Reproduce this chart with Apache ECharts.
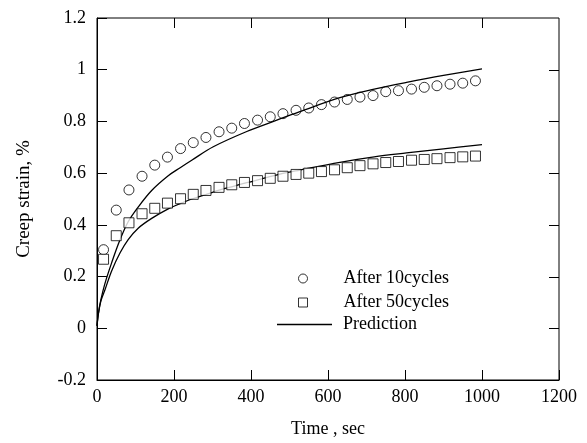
<!DOCTYPE html>
<html>
<head>
<meta charset="utf-8">
<script src="https://cdn.jsdelivr.net/npm/echarts@6/dist/echarts.min.js"></script>
<style>
    html, body { margin: 0; padding: 0; background: #fff; }
    #main { width: 587px; height: 443px; }
</style>
</head>
<body>
<div id="main"></div>
<script type="text/javascript">
    // measured points (time in sec, strain in %)
    var timeSec = [17, 50, 83, 117, 150, 183, 217, 250, 283, 317, 350, 383, 417, 450, 483,
        517, 550, 583, 617, 650, 683, 717, 750, 783, 817, 850, 883, 917, 950, 983];
    var after10 = [0.304, 0.457, 0.535, 0.588, 0.631, 0.662, 0.695, 0.718, 0.738, 0.760, 0.774, 0.792, 0.805, 0.818, 0.830,
        0.843, 0.852, 0.865, 0.875, 0.885, 0.894, 0.900, 0.915, 0.919, 0.925, 0.932, 0.938, 0.944, 0.948, 0.957];
    var after50 = [0.267, 0.358, 0.408, 0.443, 0.464, 0.484, 0.501, 0.518, 0.533, 0.545, 0.555, 0.564, 0.571, 0.580, 0.588,
        0.595, 0.600, 0.606, 0.613, 0.621, 0.629, 0.636, 0.641, 0.645, 0.650, 0.653, 0.656, 0.660, 0.663, 0.666];

    // prediction curves
    var predTime10 = [0, 4, 10, 20, 38, 60, 81, 107, 142, 185, 216, 246, 302, 389, 467, 527, 631, 720, 804, 900, 1000];
    var pred10 = [0.01, 0.06, 0.11, 0.17, 0.253, 0.343, 0.412, 0.469, 0.533, 0.59, 0.621, 0.65, 0.702, 0.761, 0.805, 0.838, 0.892, 0.925, 0.951, 0.978, 1.003];
    var predTime50 = [0, 4, 10, 21, 38, 60, 81, 107, 142, 185, 216, 246, 302, 354, 389, 475, 527, 631, 720, 804, 900, 1000];
    var pred50 = [0.01, 0.06, 0.105, 0.15, 0.222, 0.292, 0.343, 0.387, 0.425, 0.462, 0.482, 0.50, 0.527, 0.549, 0.563, 0.596, 0.612, 0.642, 0.663, 0.678, 0.694, 0.710];

    // ticks mirrored on the top and right frame
    var topTicks = [200, 400, 600, 800, 1000];
    var rightTicks = [0, 0.2, 0.4, 0.6, 0.8, 1];
    var xMax = 1200, yMax = 1.2;

    function pairs(xs, ys) {
        return xs.map(function (x, i) { return [x, ys[i]]; });
    }

    var font = 'Liberation Serif, Times New Roman, serif';
    var legendText = { fontFamily: font, fontSize: 18, color: '#000', lineHeight: 23 };
    var hollow = { color: '#fff', borderColor: '#000', borderWidth: 1 };
    var tickLen = 10;

    // frame ticks drawn through the axis scales (api.coord)
    var frameTicks = topTicks.map(function (v) { return [v, yMax, 0]; })
        .concat(rightTicks.map(function (v) { return [xMax, v, 1]; }));

    function renderTick(params, api) {
        var p = api.coord([api.value(0), api.value(1)]);
        var x = Math.round(p[0]) + 0.5, y = Math.round(p[1]) + 0.5;
        var shape = api.value(2) === 0
            ? { x1: x, y1: p[1], x2: x, y2: p[1] + tickLen }
            : { x1: p[0] - tickLen, y1: y, x2: p[0], y2: y };
        return { type: 'line', shape: shape, style: { stroke: '#000', lineWidth: 1 } };
    }

    var myChart = echarts.init(document.getElementById('main'));
    var option = {
        animation: false,
        backgroundColor: '#fff',
        grid: {
            left: 97, top: 18, right: 28, bottom: 57,
            show: true, borderColor: '#000', borderWidth: 1, backgroundColor: 'transparent'
        },
        legend: [{
            left: 298, top: 267, padding: 0,
            itemWidth: 9, itemHeight: 9,
            textStyle: Object.assign({ padding: [0, 0, 0, 31] }, legendText),
            data: [{ name: 'After 10cycles', icon: 'circle', itemStyle: hollow }]
        }, {
            left: 298, top: 291, padding: 0,
            itemWidth: 9, itemHeight: 9,
            textStyle: Object.assign({ padding: [0, 0, 0, 31] }, legendText),
            data: [{ name: 'After 50cycles', icon: 'rect', itemStyle: hollow }]
        }, {
            left: 277, top: 313, padding: 0,
            itemWidth: 55, itemHeight: 1.5,
            textStyle: Object.assign({ padding: [0, 0, 0, 6] }, legendText),
            data: [{ name: 'Prediction', icon: 'rect', itemStyle: { color: '#000' } }]
        }],
        xAxis: {
            type: 'value',
            min: 0, max: xMax, interval: 200,
            name: 'Time , sec',
            nameLocation: 'middle',
            nameGap: 40,
            nameTextStyle: { fontFamily: font, fontSize: 18, color: '#000' },
            axisLine: { show: true, onZero: false, lineStyle: { color: '#000', width: 1 } },
            axisTick: { show: true, inside: true, length: tickLen, lineStyle: { color: '#000', width: 1 } },
            splitLine: { show: false },
            axisLabel: {
                fontFamily: font, fontSize: 18, color: '#000', margin: 8,
                formatter: function (v) { return String(v); }
            }
        },
        yAxis: {
            type: 'value',
            min: -0.2, max: yMax, interval: 0.2,
            name: 'Creep strain, %',
            nameLocation: 'middle',
            nameGap: 63,
            nameTextStyle: { fontFamily: font, fontSize: 19, color: '#000' },
            axisLine: { show: true, onZero: false, lineStyle: { color: '#000', width: 1 } },
            axisTick: { show: true, inside: true, length: tickLen, lineStyle: { color: '#000', width: 1 } },
            splitLine: { show: false },
            axisLabel: {
                fontFamily: font, fontSize: 18, color: '#000', margin: 11,
                formatter: function (v) { return String(Math.round(v * 10) / 10); }
            }
        },
        series: [{
            name: 'Prediction',
            type: 'line',
            smooth: 0.35,
            symbol: 'none',
            lineStyle: { color: '#000', width: 1.3 },
            itemStyle: { color: '#000' },
            data: pairs(predTime10, pred10),
            z: 2
        }, {
            name: 'Prediction',
            type: 'line',
            smooth: 0.35,
            symbol: 'none',
            lineStyle: { color: '#000', width: 1.3 },
            itemStyle: { color: '#000' },
            data: pairs(predTime50, pred50),
            z: 2
        }, {
            name: 'After 10cycles',
            type: 'scatter',
            symbol: 'circle',
            symbolSize: 10,
            itemStyle: { color: 'rgba(255,255,255,0)', borderColor: '#000', borderWidth: 1 },
            data: pairs(timeSec, after10),
            z: 3
        }, {
            name: 'After 50cycles',
            type: 'scatter',
            symbol: 'rect',
            symbolSize: 10,
            itemStyle: hollow,
            data: pairs(timeSec, after50),
            z: 3
        }, {
            name: 'frameTicks',
            type: 'custom',
            clip: false,
            silent: true,
            renderItem: renderTick,
            encode: { x: 0, y: 1 },
            data: frameTicks,
            z: 4
        }]
    };
    myChart.setOption(option);
</script>
</body>
</html>
